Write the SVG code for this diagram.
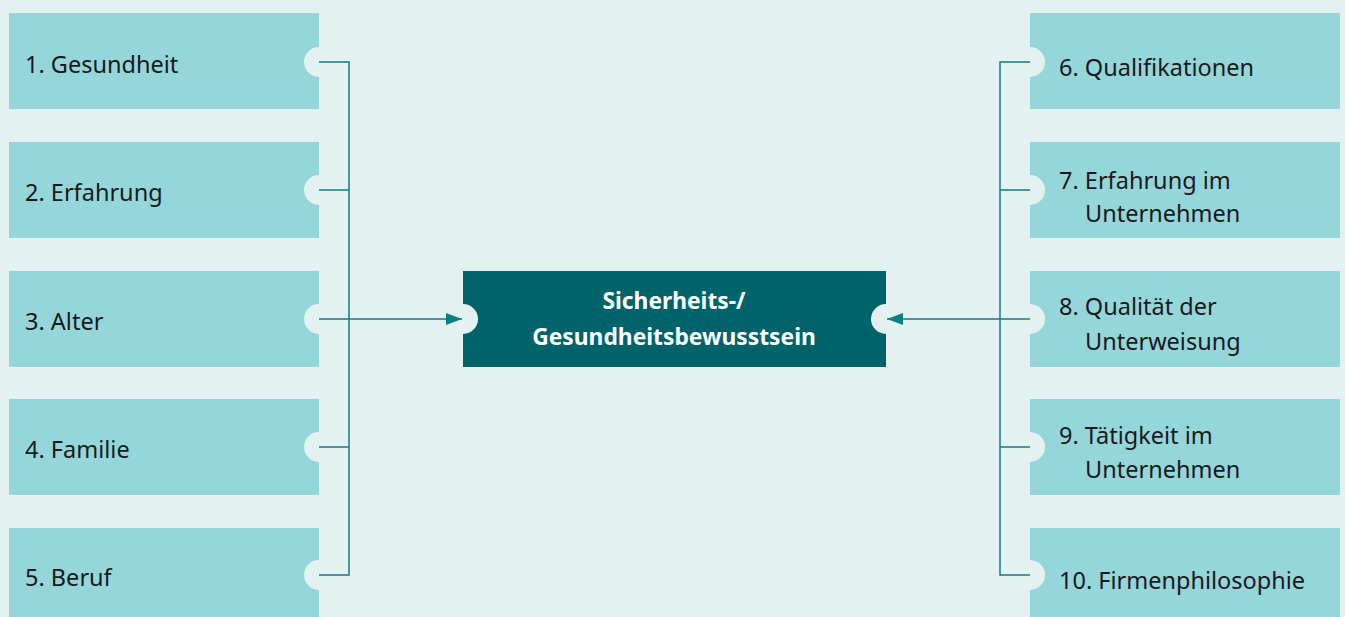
<svg xmlns="http://www.w3.org/2000/svg" width="1345" height="617" viewBox="0 0 1345 617">
<style>
.bg{fill:#e3f2f1}
.box{fill:#95d6db}
.ctr{fill:#00636a}
.notch{fill:#e3f2f1}
.t{font-family:"Source Sans Pro","Noto Sans","Open Sans",sans-serif;font-size:23.5px;fill:#1a1a1a}
.ct{font-family:"Source Sans Pro","Noto Sans","Open Sans",sans-serif;font-size:22.8px;font-weight:bold;fill:#ffffff;text-anchor:middle}
.ln{stroke:#0b7f86;stroke-width:1.5;fill:none}
</style>
<defs>
<marker id="arr" markerWidth="16" markerHeight="12" refX="16" refY="6" orient="auto" markerUnits="userSpaceOnUse">
<path d="M0,0 L16,6 L0,12 Z" fill="#0b7f86"/>
</marker>
</defs>
<rect class="bg" x="0" y="0" width="1345" height="617"/>
<g id="n1"><rect class="box" x="9" y="13" width="310" height="96"/><circle class="notch" cx="319" cy="62" r="15"/><text class="t" x="25" y="73">1. Gesundheit</text></g>
<g id="n2"><rect class="box" x="9" y="142" width="310" height="96"/><circle class="notch" cx="319" cy="190" r="15"/><text class="t" x="25" y="201">2. Erfahrung</text></g>
<g id="n3"><rect class="box" x="9" y="271" width="310" height="96"/><circle class="notch" cx="319" cy="319" r="15"/><text class="t" x="25" y="330">3. Alter</text></g>
<g id="n4"><rect class="box" x="9" y="399" width="310" height="96"/><circle class="notch" cx="319" cy="447" r="15"/><text class="t" x="25" y="458">4. Familie</text></g>
<g id="n5"><rect class="box" x="9" y="528" width="310" height="96"/><circle class="notch" cx="319" cy="575" r="15"/><text class="t" x="25" y="586">5. Beruf</text></g>
<g id="n6"><rect class="box" x="1030" y="13" width="310" height="96"/><circle class="notch" cx="1030" cy="62" r="15"/><text class="t" x="1059" y="76">6. Qualifikationen</text></g>
<g id="n7"><rect class="box" x="1030" y="142" width="310" height="96"/><circle class="notch" cx="1030" cy="190" r="15"/><text class="t" x="1059" y="189">7. Erfahrung im</text><text class="t" x="1085" y="222">Unternehmen</text></g>
<g id="n8"><rect class="box" x="1030" y="271" width="310" height="96"/><circle class="notch" cx="1030" cy="319" r="15"/><text class="t" x="1059" y="315">8. Qualität der</text><text class="t" x="1085" y="350">Unterweisung</text></g>
<g id="n9"><rect class="box" x="1030" y="399" width="310" height="96"/><circle class="notch" cx="1030" cy="447" r="15"/><text class="t" x="1059" y="444">9. Tätigkeit im</text><text class="t" x="1085" y="478">Unternehmen</text></g>
<g id="n10"><rect class="box" x="1030" y="528" width="310" height="96"/><circle class="notch" cx="1030" cy="575" r="15"/><text class="t" x="1059" y="589">10. Firmenphilosophie</text></g>
<g id="center"><rect class="ctr" x="463" y="271" width="423" height="96"/><circle class="notch" cx="463" cy="319" r="15"/><circle class="notch" cx="886" cy="319" r="15"/><text class="ct" x="674" y="309">Sicherheits-/</text><text class="ct" x="674" y="345">Gesundheitsbewusstsein</text></g>
<g id="connectors">
<path class="ln" d="M319,62 H349 V575 H319"/>
<path class="ln" d="M319,190 H349 M319,447 H349"/>
<path class="ln" d="M319,319 H462" marker-end="url(#arr)"/>
<path class="ln" d="M1030,62 H1000 V575 H1030"/>
<path class="ln" d="M1000,190 H1030 M1000,447 H1030"/>
<path class="ln" d="M1030,319 H887" marker-end="url(#arr)"/>
</g>
</svg>
